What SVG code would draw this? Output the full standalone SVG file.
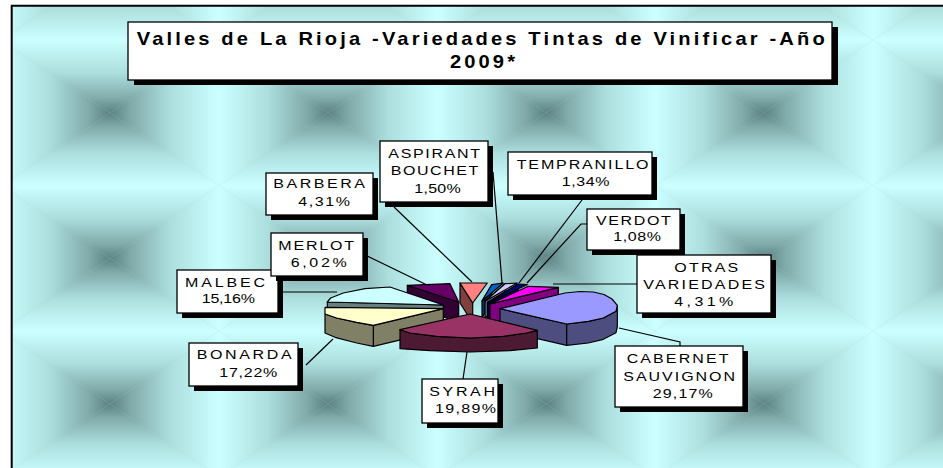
<svg xmlns="http://www.w3.org/2000/svg" width="943" height="468" viewBox="0 0 943 468">
<defs>
<style>
.box{fill:#fff;stroke:#000;stroke-width:1.3}
.sh{fill:#000}
.t{font-family:"Liberation Sans",Arial,sans-serif;font-size:12.5px;fill:#000}
.tt{font-family:"Liberation Sans",Arial,sans-serif;font-size:17.5px;font-weight:bold;fill:#000}
.ln{fill:none;stroke:#000;stroke-width:1.2}
.pc{stroke:#000;stroke-width:1.2;stroke-linejoin:round}
</style>
<linearGradient id="gT" x1="0" y1="0" x2="0" y2="1"><stop offset="0" stop-color="#ccffff"/><stop offset="0.45" stop-color="#acdede"/><stop offset="0.8" stop-color="#82abab"/><stop offset="1" stop-color="#5a8282"/></linearGradient>
<linearGradient id="gB" x1="0" y1="1" x2="0" y2="0"><stop offset="0" stop-color="#ccffff"/><stop offset="0.45" stop-color="#acdede"/><stop offset="0.8" stop-color="#82abab"/><stop offset="1" stop-color="#5a8282"/></linearGradient>
<linearGradient id="gL" x1="0" y1="0" x2="1" y2="0"><stop offset="0" stop-color="#ccffff"/><stop offset="0.45" stop-color="#acdede"/><stop offset="0.8" stop-color="#82abab"/><stop offset="1" stop-color="#5a8282"/></linearGradient>
<linearGradient id="gR" x1="1" y1="0" x2="0" y2="0"><stop offset="0" stop-color="#ccffff"/><stop offset="0.45" stop-color="#acdede"/><stop offset="0.8" stop-color="#82abab"/><stop offset="1" stop-color="#5a8282"/></linearGradient>
<pattern id="bg" patternUnits="userSpaceOnUse" x="1" y="40" width="218" height="145.5">
<rect width="218" height="145.5" fill="#a8d8d8"/>
<polygon points="0,0 218,0 109,72.75" fill="url(#gT)"/>
<polygon points="0,145.5 218,145.5 109,72.75" fill="url(#gB)"/>
<polygon points="0,0 0,145.5 109,72.75" fill="url(#gL)"/>
<polygon points="218,0 218,145.5 109,72.75" fill="url(#gR)"/>
</pattern>
</defs>
<rect x="0" y="0" width="943" height="468" fill="#fff"/>
<rect x="11.7" y="5.8" width="935" height="466" fill="url(#bg)"/>
<path d="M11.7 470V5.8H945" fill="none" stroke="#000" stroke-width="2"/>

<g id="title">
<rect class="sh" x="134" y="27" width="704" height="58"/>
<rect class="box" x="128" y="22" width="704" height="58"/>
<text class="tt" transform="matrix(1.15 0 0 1 136.7 44.8)" textLength="598.3" lengthAdjust="spacing">Valles de La Rioja -Variedades Tintas de Vinificar -Año</text>
<text class="tt" transform="matrix(1.15 0 0 1 450 67.8)" textLength="56.5" lengthAdjust="spacing">2009*</text>
</g>

<g id="connectors">
<path class="ln" d="M363 254L427 285"/>
<path class="ln" d="M394 207L472 282"/>
<path class="ln" d="M493 172L502 283"/>
<path class="ln" d="M582 200L519 283"/>
<path class="ln" d="M587 224L581 224L527 283"/>
<path class="ln" d="M637 284L553 284"/>
<path class="ln" d="M619 328L680 342L680 346"/>
<path class="ln" d="M467 352L463 379"/>
<path class="ln" d="M306 365L333 339"/>
<path class="ln" d="M278 292L337 292"/>
</g>

<g id="pie">
<g id="slice-merlot">
<polygon class="pc" fill="#330033" points="407.3,285.3 458.7,302 458.7,322 407.3,305.3"/>
<polygon class="pc" fill="#660066" points="407.3,285.3 450,283.7 458.7,302"/>
</g>
<g id="slice-barbera">
<polygon class="pc" fill="#804040" points="460,283 472.7,303 472.7,323 460,303"/>
<polygon class="pc" fill="#ff8080" points="460,283 487.3,283 472.7,303"/>
</g>
<g id="slice-aspirant">
<polygon class="pc" fill="#003366" points="491.7,284.7 482,301 482,318 491.7,301.7"/>
<polygon class="pc" fill="#0066cc" points="491.7,284.7 503.3,283 482,301"/>
</g>
<g id="slice-tempranillo">
<polygon class="pc" fill="#666680" points="505,283.7 485,301.3 485,318 505,300.7"/>
<polygon class="pc" fill="#ccccff" points="505,283.7 517.3,283 485,301.3"/>
</g>
<g id="slice-verdot">
<polygon class="pc" fill="#000040" points="518.3,284 487.5,302.5 487.5,319 518.3,301"/>
<polygon class="pc" fill="#000080" points="518.3,284 527.3,284.7 487.5,302.5"/>
</g>
<g id="slice-otras">
<polygon class="pc" fill="#800080" points="490,304 558.3,287.3 558.3,307 490,324"/>
<polygon class="pc" fill="#ff00ff" points="528.3,286.3 558.3,287.3 490,304"/>
</g>
<g id="slice-malbec">
<polygon class="pc" fill="#668080" points="327.3,302 443.3,305 443.3,325 327.3,322"/>
<polygon class="pc" fill="#ccffff" points="327.3,302 330.7,298 343.3,293 365,288.7 390,287 395,288.7 443.3,305"/>
</g>
<g id="slice-cabernet">
<polygon class="pc" fill="#4d4d80" points="500,308.7 566.7,324 566.7,345.3 500,330"/>
<polygon class="pc" fill="#4d4d80" points="617.3,305.3 616,311.3 603.3,318 588.3,321.3 566.7,324 566.7,345.3 588.3,343 603.3,339.3 616,332.7 617.3,327"/>
<polygon class="pc" fill="#9999ff" points="500,308.7 565,293 580,291.5 593.3,292 604,294.5 612,299 617.3,305.3 616,311.3 603.3,318 588.3,321.3 566.7,324"/>
</g>
<g id="slice-bonarda">
<polygon class="pc" fill="#808066" points="373.3,325.3 443.3,308.7 443.3,329.7 373.3,346.3"/>
<polygon class="pc" fill="#808066" points="325,314 336.7,318 356.7,322.3 373.3,325.3 373.3,346.3 356.7,343 335,337.3 325,333"/>
<polygon class="pc" fill="#ffffcc" points="325,307.3 443.3,308.7 373.3,325.3 356.7,322.3 336.7,318 325,314"/>
</g>
<g id="slice-syrah">
<polygon class="pc" fill="#4d1a33" points="400,329.7 410,333 436.7,336.3 470,338 503.3,336.3 526.7,333 537.3,330.3 537.3,348 510,350.7 470,352 430,350.7 400,348.7"/>
<polygon class="pc" fill="#993366" points="470,314 537.3,330.3 526.7,333 503.3,336.3 470,338 436.7,336.3 410,333 400,329.7"/>
</g>
</g>

<g id="label-aspirant">
<rect class="sh" x="385" y="146" width="108" height="61"/>
<rect class="box" x="380" y="141" width="108" height="61"/>
<text class="t" transform="matrix(1.28 0 0 1 388.3 157.7)" textLength="71.6" lengthAdjust="spacing">ASPIRANT</text>
<text class="t" transform="matrix(1.28 0 0 1 390.7 175)" textLength="68.5" lengthAdjust="spacing">BOUCHET</text>
<text class="t" transform="matrix(1.28 0 0 1 414.3 192.7)" textLength="36.2" lengthAdjust="spacing">1,50%</text>
</g>
<g id="label-tempranillo">
<rect class="sh" x="513" y="157" width="144" height="43"/>
<rect class="box" x="508" y="152" width="144" height="43"/>
<text class="t" transform="matrix(1.28 0 0 1 516.7 169)" textLength="102.9" lengthAdjust="spacing">TEMPRANILLO</text>
<text class="t" transform="matrix(1.28 0 0 1 561.7 185.5)" textLength="37.3" lengthAdjust="spacing">1,34%</text>
</g>
<g id="label-verdot">
<rect class="sh" x="592" y="214" width="93" height="41"/>
<rect class="box" x="587" y="209" width="93" height="41"/>
<text class="t" transform="matrix(1.28 0 0 1 596 225)" textLength="58.4" lengthAdjust="spacing">VERDOT</text>
<text class="t" transform="matrix(1.28 0 0 1 613.3 241)" textLength="37.3" lengthAdjust="spacing">1,08%</text>
</g>
<g id="label-otras">
<rect class="sh" x="642" y="260" width="134" height="58"/>
<rect class="box" x="637" y="255" width="134" height="58"/>
<text class="t" transform="matrix(1.28 0 0 1 674.3 271.7)" textLength="50" lengthAdjust="spacing">OTRAS</text>
<text class="t" transform="matrix(1.28 0 0 1 643.3 289.3)" textLength="95.1" lengthAdjust="spacing">VARIEDADES</text>
<text class="t" transform="matrix(1.28 0 0 1 674.3 306)" textLength="46.1" lengthAdjust="spacing">4,31%</text>
</g>
<g id="label-barbera">
<rect class="sh" x="271" y="178" width="107" height="42"/>
<rect class="box" x="266" y="173" width="107" height="42"/>
<text class="t" transform="matrix(1.28 0 0 1 273.3 188.3)" textLength="71.6" lengthAdjust="spacing">BARBERA</text>
<text class="t" transform="matrix(1.28 0 0 1 298.3 205.7)" textLength="40.4" lengthAdjust="spacing">4,31%</text>
</g>
<g id="label-malbec">
<rect class="sh" x="182" y="275" width="101" height="43"/>
<rect class="box" x="177" y="270" width="101" height="43"/>
<text class="t" transform="matrix(1.28 0 0 1 185 286.7)" textLength="62.5" lengthAdjust="spacing">MALBEC</text>
<text class="t" transform="matrix(1.28 0 0 1 201.7 303.3)" textLength="41.6" lengthAdjust="spacing">15,16%</text>
</g>
<g id="label-merlot">
<rect class="sh" x="276" y="238" width="92" height="43"/>
<rect class="box" x="271" y="233" width="92" height="43"/>
<text class="t" transform="matrix(1.28 0 0 1 278.3 250)" textLength="59.1" lengthAdjust="spacing">MERLOT</text>
<text class="t" transform="matrix(1.28 0 0 1 290.7 266.7)" textLength="43.75" lengthAdjust="spacing">6,02%</text>
</g>
<g id="label-bonarda">
<rect class="sh" x="194" y="348" width="109" height="43"/>
<rect class="box" x="189" y="343" width="109" height="43"/>
<text class="t" transform="matrix(1.28 0 0 1 196.7 359.3)" textLength="74.2" lengthAdjust="spacing">BONARDA</text>
<text class="t" transform="matrix(1.28 0 0 1 219.3 376.7)" textLength="45.3" lengthAdjust="spacing">17,22%</text>
</g>
<g id="label-syrah">
<rect class="sh" x="427" y="384" width="76" height="44"/>
<rect class="box" x="422" y="379" width="76" height="44"/>
<text class="t" transform="matrix(1.28 0 0 1 429.3 396)" textLength="51.3" lengthAdjust="spacing">SYRAH</text>
<text class="t" transform="matrix(1.28 0 0 1 435 412.7)" textLength="47.7" lengthAdjust="spacing">19,89%</text>
</g>
<g id="label-cabernet">
<rect class="sh" x="620" y="351" width="128" height="61"/>
<rect class="box" x="615" y="346" width="128" height="61"/>
<text class="t" transform="matrix(1.28 0 0 1 626.7 362.7)" textLength="79.5" lengthAdjust="spacing">CABERNET</text>
<text class="t" transform="matrix(1.28 0 0 1 623.3 380.7)" textLength="87.3" lengthAdjust="spacing">SAUVIGNON</text>
<text class="t" transform="matrix(1.28 0 0 1 652.7 397.7)" textLength="46.9" lengthAdjust="spacing">29,17%</text>
</g>
</svg>
